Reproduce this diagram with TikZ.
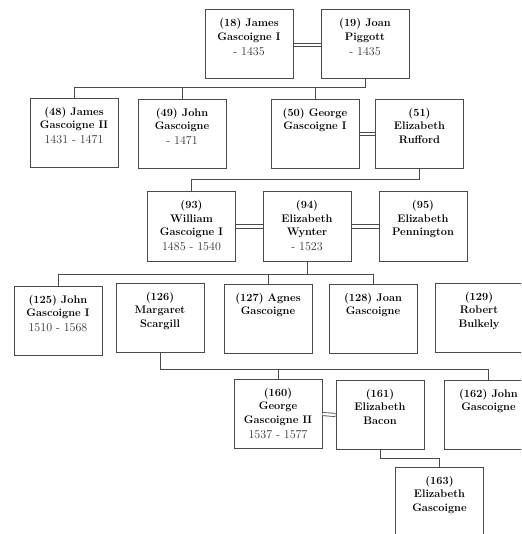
\documentclass[tikz,border=0pt]{standalone}
\usetikzlibrary{calc}
\definecolor{frame}{HTML}{4A4A4A}
\definecolor{ink}{HTML}{000000}
\definecolor{yearink}{HTML}{333333}
\newcommand\yearline[1]{\\[1.4pt]{\mdseries\fontsize{12}{14}\selectfont\color{yearink}#1}}
\tikzset{
  person/.style={draw=frame, line width=1pt, rectangle, minimum width=88pt,
                 minimum height=69pt, inner sep=0pt, fill=white},
  who/.style={anchor=north, yshift=-9pt, align=center, inner sep=0pt,
              font=\bfseries\fontsize{11}{13.4}\selectfont, text=ink},
  marriage/.style={draw=frame, line width=0.8pt, double=white, double distance=2.4pt},
  descent/.style={draw=frame, line width=1pt}
}
\begin{document}
\begin{tikzpicture}[x=1pt,y=-1pt]
\useasboundingbox (0,0) rectangle (521,534);
\clip (0,0) rectangle (521,534);

% generation 1
\node[person, label={[who]north:{(18) James\\Gascoigne I\yearline{- 1435}}}] (p18) at (249,44.5) {};
\node[person, label={[who]north:{(19) Joan\\Piggott\yearline{- 1435}}}] (p19) at (365,44.5) {};

% generation 2
\node[person, label={[who]north:{(48) James\\Gascoigne II\yearline{1431 - 1471}}}] (p48) at (74,133) {};
\node[person, label={[who]north:{(49) John\\Gascoigne\yearline{- 1471}}}] (p49) at (182,134) {};
\node[person, label={[who]north:{(50) George\\Gascoigne I}}] (p50) at (315,134) {};
\node[person, label={[who]north:{(51)\\Elizabeth\\Rufford}}] (p51) at (419.5,134) {};

% generation 3
\node[person, label={[who]north:{(93)\\William\\Gascoigne I\yearline{1485 - 1540}}}] (p93) at (191.5,226.5) {};
\node[person, label={[who]north:{(94)\\Elizabeth\\Wynter\yearline{- 1523}}}] (p94) at (307,226.5) {};
\node[person, label={[who]north:{(95)\\Elizabeth\\Pennington}}] (p95) at (423,226.5) {};

% generation 4
\node[person, label={[who]north:{(125) John\\Gascoigne I\yearline{1510 - 1568}}}] (p125) at (58,321) {};
\node[person, label={[who]north:{(126)\\Margaret\\Scargill}}] (p126) at (160,318) {};
\node[person, label={[who]north:{(127) Agnes\\Gascoigne}}] (p127) at (268,319) {};
\node[person, label={[who]north:{(128) Joan\\Gascoigne}}] (p128) at (373,319) {};
\node[person, label={[who]north:{(129)\\Robert\\Bulkely}}] (p129) at (479,318) {};

% generation 5
\node[person, label={[who]north:{(160)\\George\\Gascoigne II\yearline{1537 - 1577}}}] (p160) at (278,414) {};
\node[person, label={[who]north:{(161)\\Elizabeth\\Bacon}}] (p161) at (380,415) {};
\node[person, label={[who]north:{(162) John\\Gascoigne}}] (p162) at (488.5,415) {};

% generation 6
\node[person, label={[who]north:{(163)\\Elizabeth\\Gascoigne}}] (p163) at (439.5,502) {};

% marriages
\draw[marriage] ($(p18.east)+(0,0.6)$) -- ($(p19.west)+(0,0.6)$);
\draw[marriage] (p50.east) -- (p51.west);
\draw[marriage] (p93.east) -- (p94.west);
\draw[marriage] (p94.east) -- (p95.west);
\draw[marriage] ($(p125.east)+(0,-0.3)$) -- ($(p125.east)+(0,-0.3)$ -| p126.west);
\draw[marriage] ($(p128.east)+(0,0.3)$) -- ($(p128.east)+(0,0.3)$ -| p129.west);
\draw[marriage] (p160.east) -- (p161.west);

% children of (18) and (19)
\coordinate (f1) at ($(p19.south)+(0,8)$);
\draw[descent] (p19.south) -- (f1) -- (f1 -| p48.north) -- (p48.north);
\draw[descent] (f1 -| p49.north) -- (p49.north);
\draw[descent] (f1 -| p50.north) -- (p50.north);

% child of (50) and (51)
\coordinate (f2) at ($(p51.south)+(0,11)$);
\draw[descent] (p51.south) -- (f2) -- (f2 -| p93.north) -- (p93.north);

% children of (93) and (94)
\coordinate (f3) at ($(p94.south)+(0,13.3)$);
\draw[descent] (p94.south) -- (f3);
\draw[descent] (f3 -| p125.north) -- (f3 -| p128.north) -- (p128.north);
\draw[descent] (f3 -| p125.north) -- (p125.north);
\draw[descent] (f3 -| p127.north) -- (p127.north);

% children of (125) and (126)
\coordinate (f4) at ($(p126.south)+(0,16)$);
\draw[descent] (p126.south) -- (f4) -- (f4 -| p162.north) -- (p162.north);
\draw[descent] (f4 -| p160.north) -- (p160.north);

% child of (160) and (161)
\coordinate (f5) at ($(p161.south)+(0,8)$);
\draw[descent] (p161.south) -- (f5) -- (f5 -| p163.north) -- (p163.north);
\end{tikzpicture}
\end{document}
